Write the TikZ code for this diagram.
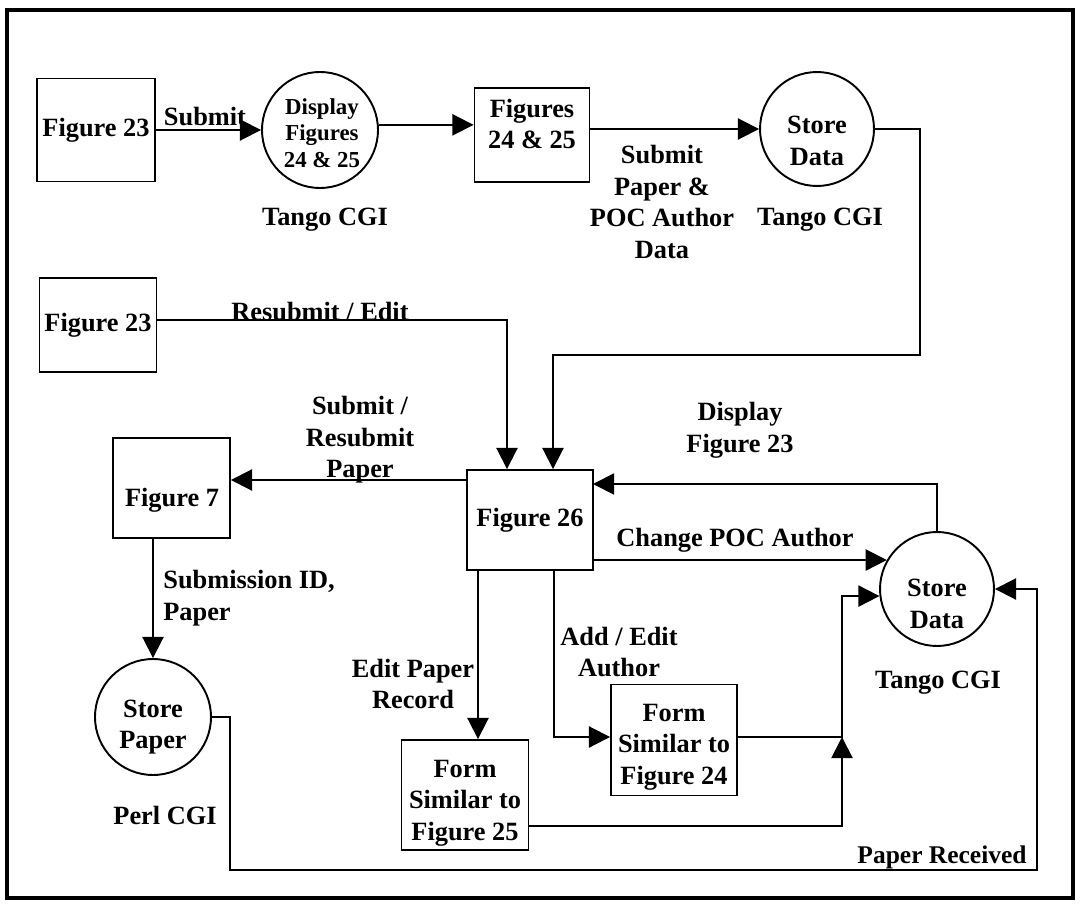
\documentclass[tikz,border=0pt]{standalone}
\usepackage{fontspec}
\setmainfont{Liberation Serif}
\usetikzlibrary{arrows.meta}
\begin{document}
\begin{tikzpicture}[x=0.02cm,y=-0.02cm,
  every node/.style={font=\bfseries\fontsize{15}{18}\selectfont, inner sep=0pt, align=center},
  boxn/.style={draw, line width=1.1pt, rectangle},
  circn/.style={draw, line width=1.1pt, circle, minimum size=2.32cm},
  lin/.style={line width=1.1pt},
  arr/.style={line width=1.1pt, -{Triangle[length=12pt,width=12pt]}},
  small/.style={font=\bfseries\fontsize{13}{15}\selectfont}
]
\useasboundingbox (0,0) rectangle (1082,909);
\draw[line width=2.2pt] (7,10) rectangle (1073,898);

% nodes
\node[boxn, minimum width=2.36cm, minimum height=2.06cm] (f23a) at (96,130) {Figure 23};
\node[circn] (disp) at (320,130) {};
\node[small] (disptxt) at (322,133) {Display\\Figures\\24 \& 25};
\node[boxn, minimum width=2.3cm, minimum height=1.88cm] (f2425) at (532,135) {};
\node (f2425txt) at (532,124) {Figures\\24 \& 25};
\node[circn, minimum size=2.28cm] (st1) at (817,129) {};
\node (st1txt) at (817,141) {Store\\Data};
\node[boxn, minimum width=2.34cm, minimum height=1.88cm] (f23b) at (98,325) {Figure 23};
\node[boxn, minimum width=2.52cm, minimum height=2.0cm] (f26) at (530,520) {Figure 26};
\node[boxn, minimum width=2.34cm, minimum height=2.0cm] (f7) at (171.5,488) {};
\node (f7txt) at (172,500) {Figure 7};
\node[circn] (sp) at (153,717) {};
\node (sptxt) at (153,727) {Store\\Paper};
\node[circn, minimum size=2.28cm] (st2) at (937,589) {};
\node (st2txt) at (937,604) {Store\\Data};
\node[boxn, minimum width=2.54cm, minimum height=2.2cm] (f25) at (465,795) {};
\node (f25txt) at (465,803) {Form\\Similar to\\Figure 25};
\node[boxn, minimum width=2.52cm, minimum height=2.22cm] (f24) at (674,740) {};
\node (f24txt) at (674,747) {Form\\Similar to\\Figure 24};

% labels
\node (lsubmit) at (205,117) {Submit};
\node (ltango1) at (325,220) {Tango CGI};
\node (ltango2) at (820,220) {Tango CGI};
\node (ltango3) at (938,683) {Tango CGI};
\node (lperl) at (165,815) {Perl CGI};
\node (lspd) at (662,202) {Submit\\Paper \&\\POC Author\\Data};
\node (lres) at (320,312) {Resubmit / Edit};
\node (lsrp) at (360,440) {Submit /\\Resubmit\\Paper};
\node (ldisp) at (740,430) {Display\\Figure 23};
\node (lchg) at (735,540) {Change POC Author};
\node[align=left, anchor=west] (lsub) at (163,598) {Submission ID,\\Paper};
\node (ledit) at (413,684) {Edit Paper\\Record};
\node (ladd) at (619,652) {Add / Edit\\Author};
\node[font=\bfseries\fontsize{14.5}{18}\selectfont] (lrec) at (942,857) {Paper Received};

% coordinates
\coordinate (c1) at (920,355);
\coordinate (c2) at (553,355);
\coordinate (c3) at (507,320);
\coordinate (c4) at (467,480);
\coordinate (c5) at (230,870);
\coordinate (c6) at (1037,870);
\coordinate (c7) at (593,484);
\coordinate (c9) at (478,570);
\coordinate (c10) at (554,737);
\coordinate (c11) at (842,737);
\coordinate (c12) at (842,826);

% connectors
\draw[arr] (f23a.east) -- (disp.west);
\draw[arr] (disp.5) -- (disp.5 -| f2425.west);
\draw[arr] (f2425.east |- st1) -- (st1.west);
\draw[arr] (st1.east) -| (c1) -- (c2) -- (c2 |- f26.north);
\draw[arr] (f23b.east |- c3) -- (c3) -- (c3 |- f26.north);
\draw[arr] (c4 -| f26.west) -- (c4 -| f7.east);
\draw[arr] (sp |- f7.south) -- (sp.north);
\draw[arr] (sp.east) -| (c5) -- (c6) |- (st2.east);
\draw[arr] (st2.north) |- (c7);
\draw[arr] (f26.east |- st2.150) -- (st2.150);
\draw[arr] (c9 |- f26.south) -- (c9 |- f25.north);
\draw[arr] (c10 |- f26.south) -- (c10) -- (c10 -| f24.west);
\draw[arr] (f24.east |- c11) -- (c11) |- (st2.187);
\draw[arr] (f25.east |- c12) -- (c12) -- (c11);
\end{tikzpicture}
\end{document}
